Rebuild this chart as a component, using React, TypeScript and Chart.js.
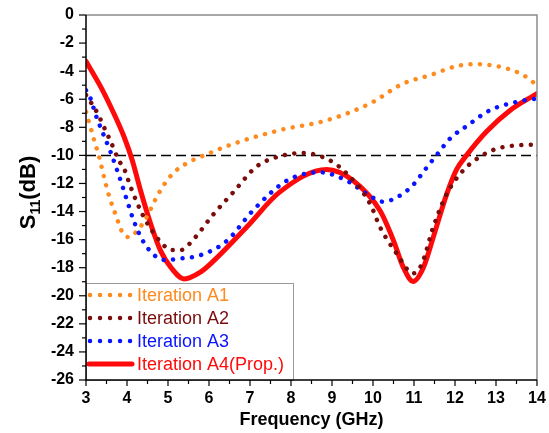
import React, { useEffect, useRef } from "react";
import { Chart, registerables } from "chart.js";

Chart.register(...registerables);

const A1_X = [3, 3.07, 3.2, 3.32, 3.44, 3.56, 3.72, 3.89, 4.05, 4.25, 4.46, 4.7, 4.9, 5.15, 5.51, 5.88, 6.6, 7.73, 8.87, 9.93, 10.74, 11.39, 12.04, 12.53, 13.18, 13.67, 14];
const A1_Y = [-6.9, -7.6, -8.93, -10.1, -11.55, -12.86, -14.2, -15.5, -15.83, -15.36, -14.5, -13.1, -12.1, -11.2, -10.48, -10, -9.17, -8.2, -7.5, -6.3, -4.88, -4.29, -3.64, -3.5, -3.74, -4.29, -5.0];

const A2_X = [3, 3.28, 3.44, 3.6, 3.8, 3.93, 4.09, 4.37, 4.58, 4.86, 5.07, 5.31, 5.63, 6.08, 6.6, 7.16, 7.81, 8.3, 8.95, 9.36, 9.93, 10.17, 10.58, 10.98, 11.19, 11.47, 11.8, 12.2, 12.61, 13.02, 13.5, 14];
const A2_Y = [-5.7, -7.0, -8.0, -9.0, -10.36, -10.95, -12.26, -14.17, -15.24, -16.3, -16.74, -16.74, -15.95, -14.29, -12.6, -10.8, -10.0, -9.83, -10.36, -11.3, -13.45, -15.1, -17.0, -18.4, -17.74, -15.1, -12.74, -11.07, -10.1, -9.52, -9.29, -9.24];

const A3_X = [3, 3.11, 3.24, 3.4, 3.6, 3.76, 3.89, 4.01, 4.17, 4.37, 4.66, 4.9, 5.31, 5.8, 6.43, 7.08, 7.9, 8.7, 9.36, 9.93, 10.25, 10.66, 10.98, 11.3, 11.6, 11.88, 12.29, 12.85, 13.5, 14];
const A3_Y = [-5.36, -5.95, -7.14, -8.33, -9.76, -11.07, -12.2, -13.3, -14.7, -16.0, -17.1, -17.45, -17.35, -17.1, -16.1, -13.9, -11.8, -11.2, -11.8, -12.9, -13.3, -12.86, -12.1, -10.9, -9.8, -8.8, -7.9, -6.79, -6.19, -5.95];

const A4_X = [3, 3.36, 3.68, 3.93, 4.13, 4.33, 4.58, 4.82, 5.07, 5.39, 5.8, 6.12, 6.92, 7.73, 8.87, 9.52, 10.17, 10.5, 10.74, 10.98, 11.23, 11.47, 11.8, 12.04, 12.28, 12.77, 13.34, 14];
const A4_Y = [-3.3, -5.12, -7.02, -8.69, -10.36, -12.5, -14.9, -16.8, -17.98, -18.8, -18.3, -17.5, -15.1, -12.6, -11.0, -11.8, -13.93, -16.07, -17.98, -18.98, -17.98, -15.83, -12.74, -11.0, -10.0, -8.3, -6.8, -5.6];

const REF_X = [3, 14];
const REF_Y = [-10, -10];

const SERIES_LABELS = ["Iteration A1", "Iteration A2", "Iteration A3", "Iteration A4(Prop.)"];
const SERIES_COLORS = ["#FF8A1E", "#7A0C0C", "#0A14FF", "#FF0A0A"];

const X_TITLE = "Frequency (GHz)";
const FONT = '"Liberation Sans", Arial, sans-serif';

const pts = (xs: number[], ys: number[]) => xs.map((x, i) => ({ x, y: ys[i] }));

const decorPlugin = {
  id: "decor",
  afterDatasetsDraw(chart: any) {
    const { ctx, chartArea, scales } = chart;
    const { left, right, top, bottom } = chartArea;
    const xs = scales.x;
    const ys = scales.y;
    ctx.save();
    ctx.strokeStyle = "#8c8c8c";
    ctx.lineWidth = 1.5;
    ctx.beginPath();
    ctx.moveTo(left, top);
    ctx.lineTo(right, top);
    ctx.lineTo(right, bottom);
    ctx.stroke();

    const bx = left, by = 283, bw = 207, bh = bottom - 283;
    ctx.fillStyle = "#ffffff";
    ctx.fillRect(bx, by, bw, bh);
    ctx.strokeStyle = "#9a9a9a";
    ctx.lineWidth = 1;
    ctx.strokeRect(bx + 0.5, by + 0.5, bw, bh);
    const rows = [295, 318, 341, 364];
    ctx.font = `18px ${FONT}`;
    ctx.textBaseline = "middle";
    ctx.textAlign = "left";
    SERIES_LABELS.forEach((lab, i) => {
      const yy = rows[i];
      ctx.strokeStyle = SERIES_COLORS[i];
      ctx.lineCap = "round";
      if (i < 3) {
        ctx.lineWidth = 4.5;
        ctx.setLineDash([0.01, 10]);
        ctx.beginPath();
        ctx.moveTo(left + 4, yy);
        ctx.lineTo(left + 48, yy);
        ctx.stroke();
      } else {
        ctx.lineWidth = 5;
        ctx.setLineDash([]);
        ctx.beginPath();
        ctx.moveTo(left + 3, yy);
        ctx.lineTo(left + 46, yy);
        ctx.stroke();
      }
      ctx.setLineDash([]);
      ctx.fillStyle = SERIES_COLORS[i];
      ctx.fillText(lab, left + 51, yy + 1);
    });

    ctx.lineCap = "butt";
    ctx.strokeStyle = "#000";
    ctx.lineWidth = 1.5;
    ctx.beginPath();
    ctx.moveTo(left, top);
    ctx.lineTo(left, bottom);
    ctx.lineTo(right, bottom);
    ctx.stroke();
    ctx.lineWidth = 1.2;
    for (let v = -26; v <= 0; v += 1) {
      const p = ys.getPixelForValue(v);
      const len = v % 2 === 0 ? 7 : 4;
      ctx.beginPath();
      ctx.moveTo(left - len, p);
      ctx.lineTo(left, p);
      ctx.stroke();
    }
    for (let v = 3; v <= 14; v += 0.5) {
      const p = xs.getPixelForValue(v);
      const len = Number.isInteger(v) ? 6 : 4;
      ctx.beginPath();
      ctx.moveTo(p, bottom);
      ctx.lineTo(p, bottom + len);
      ctx.stroke();
    }

    ctx.fillStyle = "#000";
    ctx.font = `bold 18px ${FONT}`;
    ctx.textAlign = "center";
    ctx.textBaseline = "middle";
    ctx.fillText(X_TITLE, (left + right) / 2, 420);

    ctx.save();
    ctx.translate(27, (top + bottom) / 2 - 5);
    ctx.rotate(-Math.PI / 2);
    const big = `bold 22px ${FONT}`;
    const small = `bold 14px ${FONT}`;
    ctx.font = big;
    const wS = ctx.measureText("S").width;
    const wP = ctx.measureText("(dB)").width;
    ctx.font = small;
    const w11 = ctx.measureText("11").width;
    const total = wS + w11 + wP;
    let cx = -total / 2;
    ctx.textAlign = "left";
    ctx.textBaseline = "alphabetic";
    ctx.font = big;
    ctx.fillText("S", cx, 8);
    cx += wS;
    ctx.font = small;
    ctx.fillText("11", cx, 13);
    cx += w11;
    ctx.font = big;
    ctx.fillText("(dB)", cx, 8);
    ctx.restore();

    ctx.restore();
  },
};

export default function App() {
  const ref = useRef<HTMLCanvasElement | null>(null);
  useEffect(() => {
    if (!ref.current) return;
    const dotted = (label: string, xs: number[], ys: number[], color: string, order: number) => ({
      label,
      data: pts(xs, ys),
      borderColor: color,
      backgroundColor: color,
      borderWidth: 4.5,
      borderDash: [0.01, 9.5],
      borderCapStyle: "round" as const,
      pointRadius: 0,
      cubicInterpolationMode: "monotone" as const,
      fill: false,
      order,
    });
    const chart = new Chart(ref.current, {
      type: "line",
      data: {
        datasets: [
          dotted(SERIES_LABELS[0], A1_X, A1_Y, SERIES_COLORS[0], 2),
          dotted(SERIES_LABELS[1], A2_X, A2_Y, SERIES_COLORS[1], 0),
          dotted(SERIES_LABELS[2], A3_X, A3_Y, SERIES_COLORS[2], 1),
          {
            label: SERIES_LABELS[3],
            data: pts(A4_X, A4_Y),
            borderColor: SERIES_COLORS[3],
            backgroundColor: SERIES_COLORS[3],
            borderWidth: 5,
            borderCapStyle: "round",
            borderJoinStyle: "round",
            pointRadius: 0,
            cubicInterpolationMode: "monotone",
            fill: false,
            order: 3,
          },
          {
            label: "ref",
            data: pts(REF_X, REF_Y),
            borderColor: "#000",
            borderWidth: 1.5,
            borderDash: [10, 5],
            pointRadius: 0,
            fill: false,
            order: 4,
          },
        ],
      },
      options: {
        responsive: false,
        animation: false,
        layout: { padding: { top: 15, right: 12, left: 0, bottom: 0 } },
        plugins: { legend: { display: false }, tooltip: { enabled: false } },
        scales: {
          x: {
            type: "linear",
            min: 3,
            max: 14,
            grid: { display: false, drawTicks: false },
            border: { display: false },
            ticks: { stepSize: 1, padding: 9, color: "#000", font: { family: FONT, size: 16, weight: "bold" } },
            afterFit: (s: any) => { s.height = 53; s.paddingLeft = 0; s.paddingRight = 0; },
          },
          y: {
            type: "linear",
            min: -26,
            max: 0,
            grid: { display: false, drawTicks: false },
            border: { display: false },
            ticks: { stepSize: 2, padding: 12, color: "#000", font: { family: FONT, size: 16, weight: "bold" } },
            afterFit: (s: any) => { s.width = 86; s.paddingTop = 0; s.paddingBottom = 0; },
          },
        },
      },
      plugins: [decorPlugin],
    });
    return () => chart.destroy();
  }, []);
  return (
    <div style={{ position: "absolute", left: 0, top: 0, width: 549, height: 433, background: "#fff" }}>
      <canvas ref={ref} width={549} height={433} style={{ display: "block" }} />
    </div>
  );
}
